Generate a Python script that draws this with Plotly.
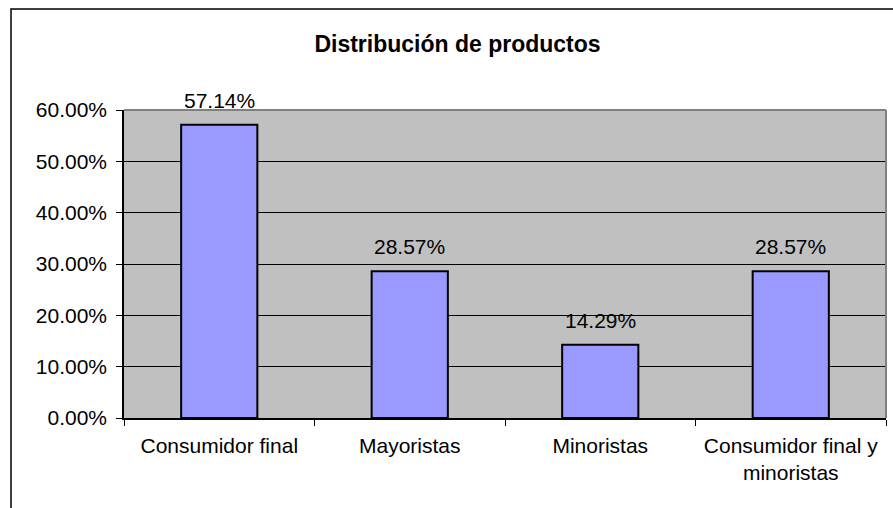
import plotly.graph_objects as go

# datos del gráfico
categorias = ["Consumidor final", "Mayoristas", "Minoristas", "Consumidor final y<br>minoristas"]
porcentajes = [0.5714, 0.2857, 0.1429, 0.2857]
etiquetas = ["57.14%", "28.57%", "14.29%", "28.57%"]
ticks_y = [0, 0.1, 0.2, 0.3, 0.4, 0.5, 0.6]

W, H = 893, 508
L, R, T, B = 124, 7, 110, 90
pw, ph = W - L - R, H - T - B


def px_x(p):
    return (p - L) / pw


def px_y(p):
    return (H - B - p) / ph


fig = go.Figure(go.Bar(
    x=categorias,
    y=porcentajes,
    marker=dict(color="#9999FF", line=dict(color="black", width=2)),
    cliponaxis=False,
))

# etiquetas de datos encima de cada barra
for cat, val, txt in zip(categorias, porcentajes, etiquetas):
    fig.add_annotation(x=cat, y=val, text=txt, showarrow=False,
                       yanchor="bottom", yshift=11,
                       font=dict(size=21, color="black"))

fig.update_layout(
    width=W, height=H,
    margin=dict(l=L, r=R, t=T, b=B),
    paper_bgcolor="white",
    plot_bgcolor="#C0C0C0",
    font=dict(family="Liberation Sans, Arial", size=21, color="black"),
    bargap=0.6,
    showlegend=False,
    title=dict(
        text="<b>Distribución de productos</b>",
        font=dict(size=23, color="black"),
        xref="container", yref="container",
        x=457.5 / W, y=1 - 44 / H,
        xanchor="center", yanchor="middle",
    ),
    xaxis=dict(
        type="category",
        tickson="boundaries",
        ticks="outside", ticklen=6, tickcolor="black",
        showline=True, linecolor="black", linewidth=1.5,
        showgrid=False,
        automargin=False,
        ticklabelstandoff=8,
        tickfont=dict(size=21),
    ),
    yaxis=dict(
        range=[0, 0.6],
        tickvals=ticks_y,
        tickformat=".2%",
        ticks="outside", ticklen=6, tickcolor="black",
        showline=True, linecolor="black", linewidth=1.5,
        showgrid=True, gridcolor="black", gridwidth=1,
        zeroline=False,
        automargin=False,
        ticklabelstandoff=5,
        tickfont=dict(size=21),
    ),
    shapes=[
        # borde gris del área de trazado (arriba y derecha)
        dict(type="line", xref="x domain", yref="y domain", x0=0, x1=1, y0=1, y1=1,
             line=dict(color="#808080", width=2), layer="above"),
        dict(type="line", xref="x domain", yref="y domain", x0=1, x1=1, y0=0, y1=1,
             line=dict(color="#808080", width=2), layer="above"),
        # borde del gráfico
        dict(type="rect", xref="paper", yref="paper",
             x0=px_x(11), x1=px_x(910), y0=px_y(530), y1=px_y(9),
             line=dict(color="black", width=1.5), layer="below"),
    ],
)

# sin margen del body para que el gráfico empiece en (0, 0)
fig.write_html("out.html", config={"displayModeBar": False},
               post_script="document.body.style.margin='0';")
